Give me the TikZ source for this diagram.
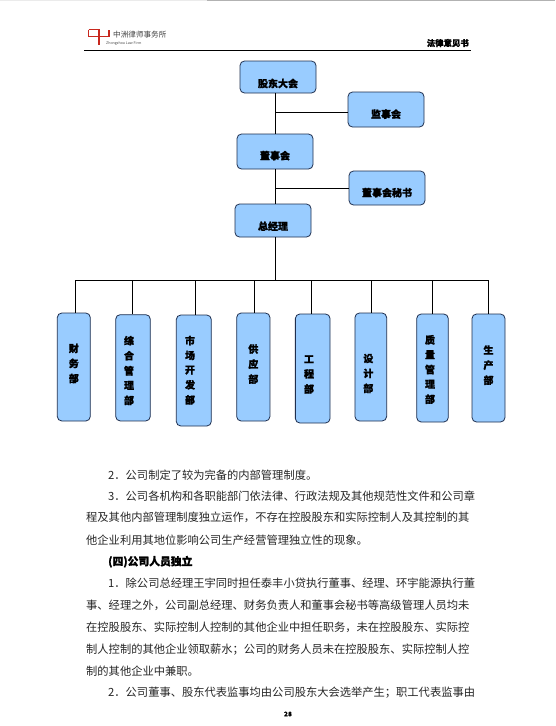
\documentclass[tikz,border=0pt]{standalone}
\usepackage{fontspec}
\setmainfont[BoldFeatures={FakeBold=1.2}]{Noto Sans CJK SC}
\definecolor{boxfill}{HTML}{99CCFF}
\definecolor{boxline}{HTML}{1F2F4F}
\definecolor{logored}{HTML}{C8281E}
\newcommand{\dn}[2]{\raisebox{#1}[0pt][0pt]{#2}}
\newcommand{\vt}[3]{\makebox[0pt][c]{\hspace*{#2}\raisebox{#1}[0pt][0pt]{\begin{tabular}{@{}c@{}}#3\end{tabular}}}}
\tikzset{
  x=1pt,y=-1pt,
  orgbox/.style={draw=boxline,line width=0.8pt,fill=boxfill,rounded corners=4.5pt,inner sep=0pt,font=\fontsize{10}{10}\selectfont\bfseries,text=black},
  link/.style={draw=black,line width=1pt},
  logostroke/.style={draw=logored,line width=1.7pt},
  body/.style={anchor=west,inner sep=0pt,font=\fontsize{11.27}{12}\selectfont,text=black!85}
}
\begin{document}
\begin{tikzpicture}
\useasboundingbox[fill=white] (0,0) rectangle (555,726);
% top scan edge
\fill[black!8] (0,0) rectangle (207,1);
\fill[black!30] (207,0) rectangle (555,1);
% header
\draw[logostroke] (88.5,29.5) -- (88.5,36.5) -- (109,36.5) -- (109,29.5);
\draw[logostroke] (88.5,29.5) -- (98.5,29.5);
\draw[logostroke,line width=1.3pt] (99,29) -- (99,45);
\node[anchor=west,inner sep=0pt,font=\fontsize{7.6}{8}\selectfont,text=black!75] (firm) at (113,35) {中洲律师事务所};
\node[anchor=west,inner sep=0pt,font=\fontsize{3.6}{4}\selectfont,text=black!70] (firmen) at (106,43.3) {Zhongzhou Law Firm};
\node[anchor=east,inner sep=0pt,font=\fontsize{8.4}{9}\selectfont\bfseries] (doc) at (469,43) {法律意见书};
\draw[black,line width=0.8pt] (84,50.5) -- (471,50.5);
% upper boxes
\node[orgbox,minimum width=76pt,minimum height=32pt] (gd) at (278,77) {\dn{-10.3pt}{股东大会}};
\node[orgbox,minimum width=76pt,minimum height=35pt] (js) at (386,109.5) {\dn{-8.5pt}{监事会}};
\node[orgbox,minimum width=76pt,minimum height=35pt] (ds) at (275,151.5) {\dn{-8pt}{董事会}};
\node[orgbox,minimum width=76pt,minimum height=34pt] (ms) at (387,188) {\dn{-8.5pt}{董事会秘书}};
\node[orgbox,minimum width=76pt,minimum height=33pt] (zj) at (273,220.5) {\dn{-9.5pt}{总经理}};
% lower boxes
\node[orgbox,minimum width=33pt,minimum height=108pt] (b1) at (73.8,367) {\vt{0pt}{0pt}{财\\[3.4pt]务\\[3.4pt]部}};
\node[orgbox,minimum width=34.6pt,minimum height=106.3pt] (b2) at (133,367.8) {\vt{-6.2pt}{-8pt}{综\\[3.4pt]合\\[3.4pt]管\\[3.4pt]理\\[3.4pt]部}};
\node[orgbox,minimum width=35pt,minimum height=111pt] (b3) at (193.8,370.5) {\vt{-3.2pt}{-7.6pt}{市\\[3.4pt]场\\[3.4pt]开\\[3.4pt]发\\[3.4pt]部}};
\node[orgbox,minimum width=33.3pt,minimum height=108pt] (b4) at (253.3,367) {\vt{-0.6pt}{0pt}{供\\[3.4pt]应\\[3.4pt]部}};
\node[orgbox,minimum width=34.7pt,minimum height=109pt] (b5) at (312.7,368.5) {\vt{-9.5pt}{-7.4pt}{工\\[3.4pt]程\\[3.4pt]部}};
\node[orgbox,minimum width=31.7pt,minimum height=108pt] (b6) at (370.8,367) {\vt{-10pt}{-5pt}{设\\[3.4pt]计\\[3.4pt]部}};
\node[orgbox,minimum width=31.6pt,minimum height=108pt] (b7) at (432.5,368) {\vt{-5pt}{-5pt}{质\\[3.4pt]量\\[3.4pt]管\\[3.4pt]理\\[3.4pt]部}};
\node[orgbox,minimum width=33pt,minimum height=108pt] (b8) at (488.5,368) {\vt{-0.7pt}{0pt}{生\\[3.4pt]产\\[3.4pt]部}};
% connectors
\coordinate (j1) at (js.west |- 0,112);
\coordinate (j2) at (ms.west |- 0,188);
\draw[link] (275.7,0 |- gd.south) -- (275.7,0 |- ds.north);
\draw[link] (275.7,0 |- ds.south) -- (275.7,0 |- zj.north);
\draw[link] (275.7,112) -- (j1);
\draw[link] (275.7,188) -- (j2);
\coordinate (bus) at (275,280.7);
\draw[link] (275,0 |- zj.south) -- (bus);
\draw[link] (b1.north -| 75.7,0) -- (75.7,280.7) -- (488.7,280.7) -- (b8.north -| 488.7,0);
\foreach \n/\x in {b2/132.7,b3/195,b4/254.7,b5/311.7,b6/371.3,b7/432.7}
  \draw[link] (\x,0 |- \n.north) -- (\x,280.7);
% body
\node[body] (t1) at (108,475) {2．公司制定了较为完备的内部管理制度。};
\node[body] (t2) at (108,495.7) {3．公司各机构和各职能部门依法律、行政法规及其他规范性文件和公司章};
\node[body] (t3) at (86,517.7) {程及其他内部管理制度独立运作，不存在控股股东和实际控制人及其控制的其};
\node[body] (t4) at (86,540) {他企业利用其地位影响公司生产经营管理独立性的现象。};
\node[body,font=\fontsize{10.8}{12}\selectfont\bfseries,text=black] (t5) at (108,561.7) {(四)公司人员独立};
\node[body] (t6) at (108,583.3) {1．除公司总经理王宇同时担任泰丰小贷执行董事、经理、环宇能源执行董};
\node[body] (t7) at (86,605) {事、经理之外，公司副总经理、财务负责人和董事会秘书等高级管理人员均未};
\node[body] (t8) at (86,627.3) {在控股股东、实际控制人控制的其他企业中担任职务，未在控股股东、实际控};
\node[body] (t9) at (86,649.3) {制人控制的其他企业领取薪水；公司的财务人员未在控股股东、实际控制人控};
\node[body] (t10) at (86,671) {制的其他企业中兼职。};
\node[body] (t11) at (108,692.3) {2．公司董事、股东代表监事均由公司股东大会选举产生；职工代表监事由};
\node[inner sep=0pt,font=\fontsize{6.5}{7}\selectfont\bfseries] (pg) at (288,714) {28};
\end{tikzpicture}
\end{document}
